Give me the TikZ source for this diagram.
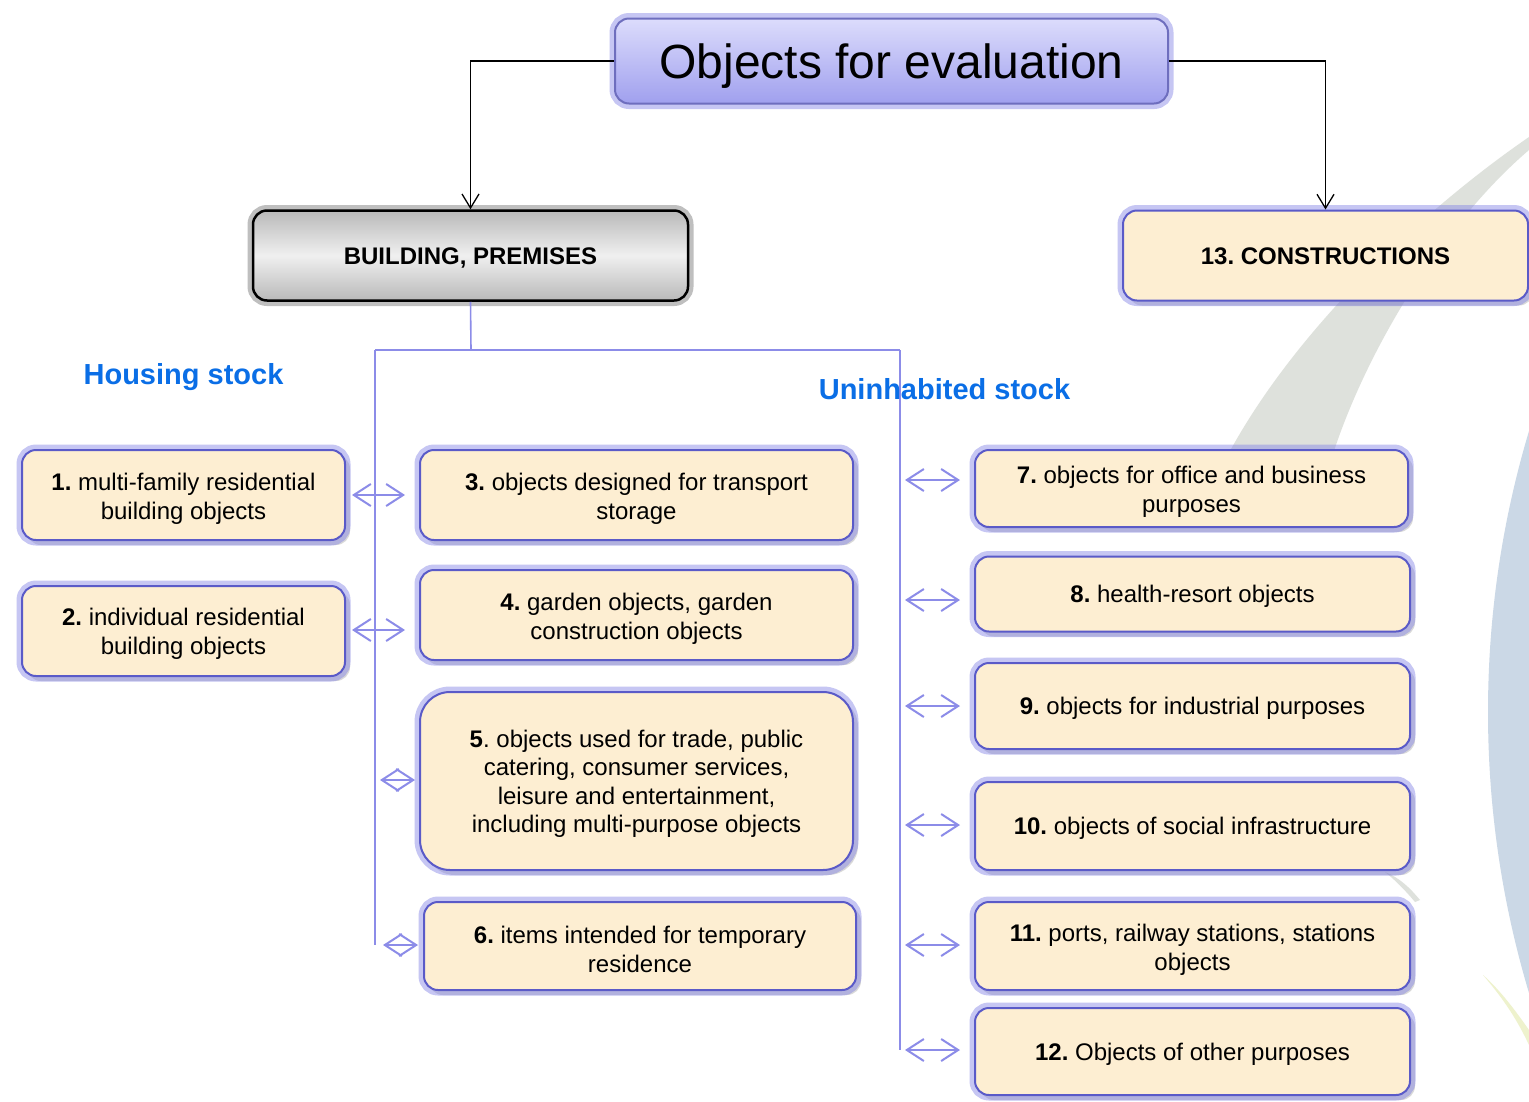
\documentclass[tikz,border=0pt]{standalone}
\usepackage{fontspec}
\setmainfont{Liberation Sans}
\usetikzlibrary{arrows.meta,shadows}
\frenchspacing
\definecolor{cream}{RGB}{253,238,210}
\definecolor{edgec}{RGB}{90,90,200}
\definecolor{glowc}{RGB}{130,130,230}
\definecolor{linec}{RGB}{140,140,232}
\definecolor{headc}{RGB}{10,110,230}
\definecolor{bgcirc}{RGB}{203,216,230}
\definecolor{bgblade}{RGB}{222,225,220}
\definecolor{bgyell}{RGB}{238,242,205}
\newcommand{\topstrut}{\rule{0pt}{22.5pt}}
\newcommand{\botstrut}{\rule[-5pt]{0pt}{5pt}}
\begin{document}
\begin{tikzpicture}[x=1pt,y=-1pt,
  glow/.style={preaction={draw=glowc, line width=11pt, opacity=0.45}},
  cbox/.style={rounded corners=14pt, fill=cream, draw=edgec, line width=2pt,
     drop shadow={shadow xshift=5pt, shadow yshift=-5pt, fill=gray, opacity=0.3},
     glow, align=center, font=\fontsize{24}{29}\selectfont, inner sep=0pt,
     execute at begin node=\topstrut, execute at end node=\botstrut},
  ebox/.style={rounded corners=14pt, fill=cream, draw=edgec, line width=2pt,
     drop shadow={shadow xshift=5pt, shadow yshift=-5pt, fill=gray, opacity=0.3},
     glow, inner sep=0pt},
  txt/.style={align=center, font=\fontsize{24}{29}\selectfont, inner sep=0pt},
  bl/.style={draw=linec, line width=1.6pt},
  dbl/.style={draw=linec, line width=2pt, {Straight Barb[length=17pt,width=22pt]}-{Straight Barb[length=17pt,width=22pt]}},
  blk/.style={draw=black, line width=1.3pt, -{Straight Barb[length=14pt,width=17pt]}},
  head/.style={text=headc, font=\fontsize{29}{34}\selectfont\bfseries, inner sep=0pt, text height=21pt, text depth=0pt}
]
\useasboundingbox (0,0) rectangle (1529,1101);
\fill[white] (0,0) rectangle (1529,1101);
% background decoration
\begin{scope}
\clip (0,0) rectangle (1529,1101);
\fill[bgcirc] (2465,712) circle (977);
\fill[bgblade] (1529,137) .. controls (1430,205) and (1290,330) .. (1220,470)
   -- (1328,470) .. controls (1360,360) and (1440,226) .. (1529,150) -- cycle;
\fill[bgyell] (1483,975) .. controls (1500,990) and (1515,1010) .. (1529,1030)
   -- (1529,1045) .. controls (1515,1015) and (1500,995) .. cycle;
\fill[bgblade] (1385,872) .. controls (1395,880) and (1405,890) .. (1415,902)
   -- (1420,900) .. controls (1410,888) and (1400,878) .. cycle;
\end{scope}

% connector junctions (blue)
\coordinate (jT) at (471,350);
\coordinate (jL) at (375,350);
\coordinate (jR) at (900,350);
\coordinate (jLb) at (375,945);
\coordinate (jRb) at (900,1050);

% top boxes
\node[rounded corners=14pt, top color={rgb,255:red,220;green,220;blue,252}, bottom color={rgb,255:red,160;green,160;blue,238},
  draw={rgb,255:red,110;green,110;blue,190}, line width=2pt, glow,
  minimum width=553pt, minimum height=85pt, inner sep=0pt, text height=34pt, text depth=0pt,
  font=\fontsize{48}{56}\selectfont] (title) at (891.5,61) {Objects for evaluation};

\node[rounded corners=14pt, top color=gray!55, bottom color=gray!55, middle color=gray!12,
  draw=black, line width=2.5pt, preaction={draw=gray, line width=11pt, opacity=0.5},
  minimum width=435pt, minimum height=90pt, inner sep=0pt, text height=17.2pt, text depth=0pt,
  font=\fontsize{24}{29}\selectfont\bfseries] (bld) at (470.5,255.5) {BUILDING, PREMISES};

\node[rounded corners=14pt, fill=cream, draw=edgec, line width=2pt,
  drop shadow={shadow xshift=5pt, shadow yshift=-5pt, fill=gray, opacity=0.3}, glow,
  minimum width=405pt, minimum height=90pt, inner sep=0pt, text height=17.2pt, text depth=0pt,
  font=\fontsize{24}{29}\selectfont\bfseries] (cons) at (1325.5,255.5) {13. CONSTRUCTIONS};

\draw[blk] (title.west) -| (bld.north);
\draw[blk] (title.east) -| (cons.north);

\draw[bl] (bld.south) -- (jT);
\draw[bl] (jL) -- (jR);
\draw[bl] (jL) -- (jLb);
\draw[bl] (jR) -- (jRb);

\node[head] (hs) at (183.5,374) {Housing stock};
\node[head] (us) at (944.5,389) {Uninhabited stock};

% multi-line boxes: box shape plus text node
\node[ebox, minimum width=323pt, minimum height=90pt] (b1) at (183.5,495) {};
\node[txt] (t1) at ([yshift=-3.5pt]b1.center) {\textbf{1.} multi-family residential\\building objects};
\node[ebox, minimum width=323pt, minimum height=90pt] (b2) at (183.5,631) {};
\node[txt] (t2) at ([yshift=-3pt]b2.center) {\textbf{2.} individual residential\\building objects};
\node[ebox, minimum width=433pt, minimum height=90pt] (b3) at (636.5,495) {};
\node[txt] (t3) at ([yshift=-3.5pt]b3.center) {\textbf{3.} objects designed for transport\\storage};
\node[ebox, minimum width=433pt, minimum height=90pt] (b4) at (636.5,615) {};
\node[txt] (t4) at ([yshift=-3.5pt]b4.center) {\textbf{4.} garden objects, garden\\construction objects};
\node[ebox, rounded corners=30pt, minimum width=433pt, minimum height=178pt] (b5) at (636.5,781) {};
\node[txt, font=\fontsize{24}{28.5}\selectfont] (t5) at ([yshift=-3pt]b5.center) {\textbf{5}. objects used for trade, public\\catering, consumer services,\\leisure and entertainment,\\including multi-purpose objects};
\node[ebox, minimum width=432pt, minimum height=88pt] (b6) at (640,946) {};
\node[txt] (t6) at ([yshift=-3.5pt]b6.center) {\textbf{6.} items intended for temporary\\residence};
\node[ebox, minimum width=433pt, minimum height=77pt] (b7) at (1191.5,488.5) {};
\node[txt] (t7) at ([yshift=-3pt]b7.center) {\textbf{7.} objects for office and business\\purposes};
\node[ebox, minimum width=435pt, minimum height=88pt] (b11) at (1192.5,946) {};
\node[txt] (t11) at ([yshift=-3.5pt]b11.center) {\textbf{11.} ports, railway stations, stations\\objects};

% single-line boxes
\node[cbox, minimum width=435pt, minimum height=75pt] (b8) at (1192.5,594) {\textbf{8.} health-resort objects};
\node[cbox, minimum width=435pt, minimum height=86pt] (b9) at (1192.5,706) {\textbf{9.} objects for industrial purposes};
\node[cbox, minimum width=435pt, minimum height=88pt] (b10) at (1192.5,826) {\textbf{10.} objects of social infrastructure};
\node[cbox, minimum width=435pt, minimum height=87pt] (b12) at (1192.5,1051.5) {\textbf{12.} Objects of other purposes};

% double arrows
\coordinate (l1a) at (352,495); \coordinate (l1b) at (405,495);
\coordinate (l2a) at (352,630); \coordinate (l2b) at (405,630);
\coordinate (l5a) at (380,780); \coordinate (l5b) at (415,780);
\coordinate (l6a) at (383,945); \coordinate (l6b) at (418,945);
\draw[dbl] (l1a) -- (l1b);
\draw[dbl] (l2a) -- (l2b);
\draw[dbl] (l5a) -- (l5b);
\draw[dbl] (l6a) -- (l6b);
\foreach \y/\n in {480/7,600/8,706/9,825/10,945/11,1050/12}{
  \coordinate (r\n a) at (905,\y); \coordinate (r\n b) at (960,\y);
  \draw[dbl] (r\n a) -- (r\n b);
}
\end{tikzpicture}
\end{document}
